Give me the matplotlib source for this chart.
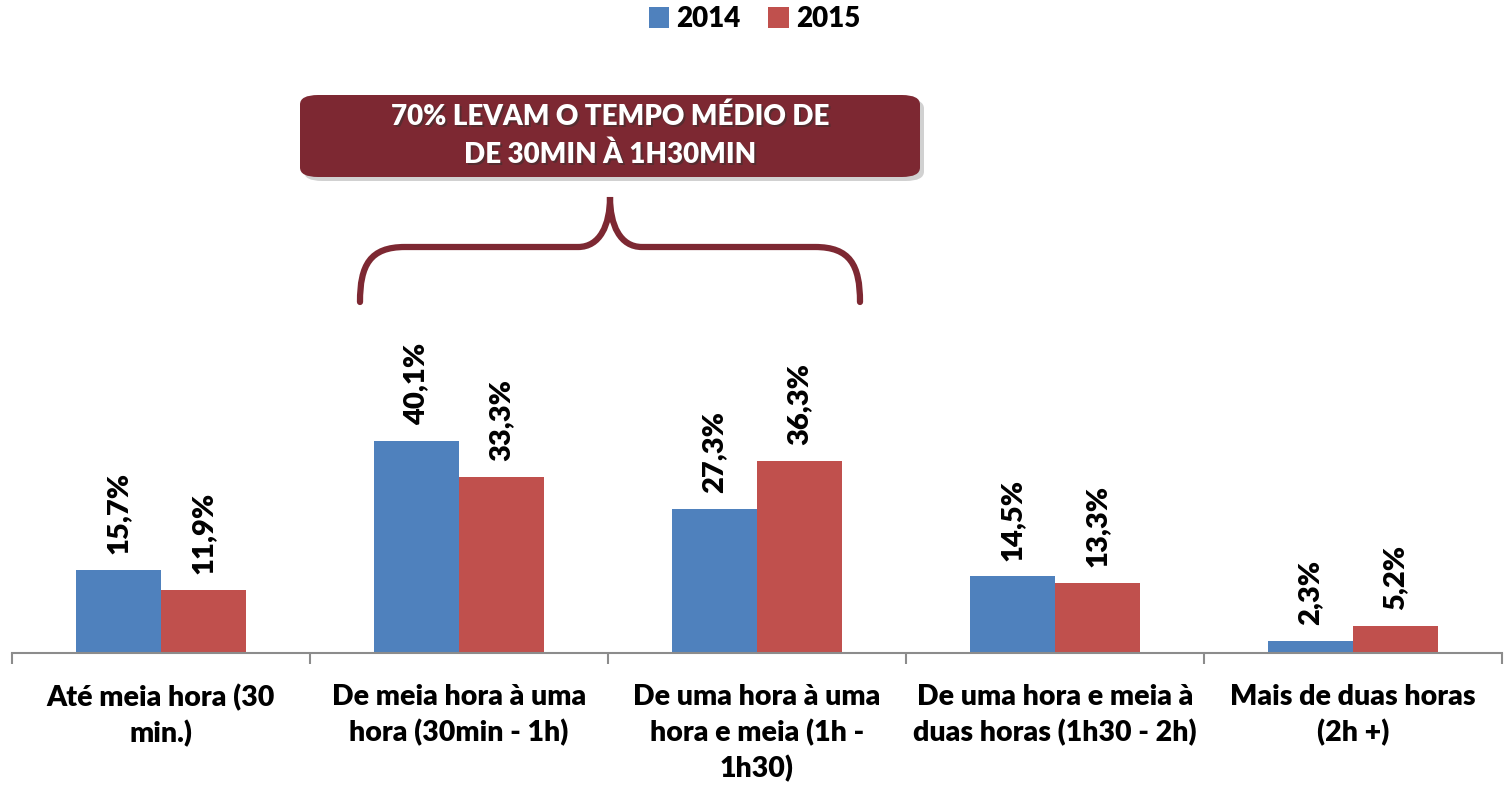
import matplotlib.pyplot as plt
from matplotlib.patches import FancyBboxPatch, PathPatch
from matplotlib.path import Path
import numpy as np

categories = ["Até meia hora (30\nmin.)",
              "De meia hora à uma\nhora (30min - 1h)",
              "De uma hora à uma\nhora e meia (1h -\n1h30)",
              "De uma hora e meia à\nduas horas (1h30 - 2h)",
              "Mais de duas horas\n(2h +)"]
vals2014 = [15.7, 40.1, 27.3, 14.5, 2.3]
vals2015 = [11.9, 33.3, 36.3, 13.3, 5.2]
series = ["2014", "2015"]
callout = "70% LEVAM O TEMPO MÉDIO DE\nDE 30MIN À 1H30MIN"

blue = "#4F81BD"
red = "#C0504D"
wine = "#7D2832"

plt.rcParams['font.family'] = ['Lato', 'DejaVu Sans']
plt.rcParams['font.weight'] = 'heavy'

W, H = 1509, 788
fig = plt.figure(figsize=(W / 100, H / 100), dpi=100)

def fx(px):
    return px / W

def fy(py):
    return 1 - py / H

# axes placed in pixel terms: x 12..1502, baseline at y=653, top at y=100
ax = fig.add_axes([fx(12), fy(653), fx(1502) - fx(12), fy(100) - fy(653)])

x = np.arange(len(categories))
w = 0.285
b1 = ax.bar(x - w / 2, vals2014, w, color=blue, label=series[0])
b2 = ax.bar(x + w / 2, vals2015, w, color=red, label=series[1])

for bars, vals in ((b1, vals2014), (b2, vals2015)):
    for r, v in zip(bars, vals):
        ax.text(r.get_x() + r.get_width() / 2, v + 3.0,
                ("%.1f%%" % v).replace(".", ","),
                rotation=90, ha="center", va="bottom",
                fontsize=21, fontweight="heavy")

ax.set_xlim(-0.5, len(categories) - 0.5)
ax.set_ylim(0, 553 / 5.28)

for s in ["top", "right", "left"]:
    ax.spines[s].set_visible(False)
ax.spines["bottom"].set_color("#8C8C8C")
ax.spines["bottom"].set_linewidth(1.5)
ax.set_yticks([])

ax.set_xticks(np.arange(len(categories) + 1) - 0.5)
ax.set_xticklabels([])
ax.tick_params(axis="x", which="major", length=8, width=1.5, color="#8C8C8C", direction="out")
ax.set_xticks(x, minor=True)
ax.set_xticklabels(categories, minor=True, fontsize=20.5, fontweight="heavy", linespacing=1.4)
ax.tick_params(axis="x", which="minor", length=0, pad=22)

fig.legend(handles=[b1, b2], labels=series, loc="upper center", bbox_to_anchor=(0.5, 1.024),
           ncol=2, frameon=False, handlelength=0.75, handleheight=0.75,
           handletextpad=0.25, columnspacing=1.0, prop={"size": 20, "weight": "heavy"})

# callout box with shadow
shadow = FancyBboxPatch((fx(304), fy(181)), fx(920) - fx(300), fy(95) - fy(177),
                        boxstyle="round,pad=0,rounding_size=0.012", transform=fig.transFigure,
                        facecolor="#000000", alpha=0.18, edgecolor="none")
box = FancyBboxPatch((fx(300), fy(177)), fx(920) - fx(300), fy(95) - fy(177),
                     boxstyle="round,pad=0,rounding_size=0.012", transform=fig.transFigure,
                     facecolor=wine, edgecolor="none")
fig.patches.extend([shadow, box])
fig.text(fx(612), fy(138), callout, color="#303030", ha="center", va="center",
         fontsize=20, fontweight="heavy", linespacing=1.55, alpha=0.5,
         transform=fig.transFigure)
fig.text(fx(610), fy(136), callout, color="white", ha="center", va="center",
         fontsize=20, fontweight="heavy", linespacing=1.55)

# curly brace
pts = [(360, 302), (360, 265), (370, 247), (405, 247),
       (578, 247), (600, 247), (610, 225), (610, 197),
       (610, 225), (620, 247), (642, 247),
       (815, 247), (850, 247), (860, 265), (860, 302)]
codes = [Path.MOVETO, Path.CURVE4, Path.CURVE4, Path.CURVE4,
         Path.LINETO, Path.CURVE4, Path.CURVE4, Path.CURVE4,
         Path.CURVE4, Path.CURVE4, Path.CURVE4,
         Path.LINETO, Path.CURVE4, Path.CURVE4, Path.CURVE4]
brace = Path([(fx(a), fy(b)) for a, b in pts], codes)
fig.patches.append(PathPatch(brace, transform=fig.transFigure, facecolor="none",
                             edgecolor=wine, linewidth=4.5, capstyle="round"))

fig.savefig("out.png", dpi=100)
